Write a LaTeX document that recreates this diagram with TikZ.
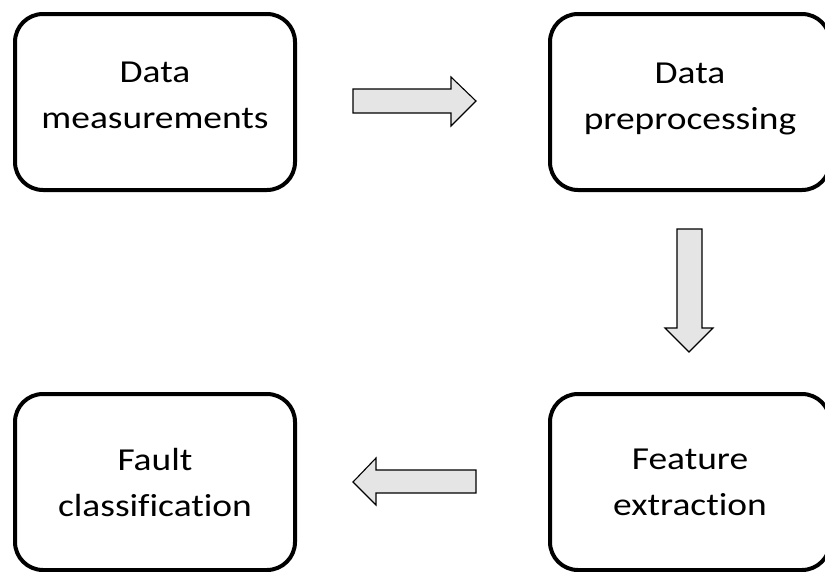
\documentclass[tikz,border=0pt]{standalone}
\usepackage{fontspec}
\setmainfont{Carlito}[Ligatures=NoCommon]
\begin{document}
\begin{tikzpicture}[x=1pt,y=-1pt,
  stage/.style={draw=black,line width=4pt,rounded corners=28pt,fill=white,
    minimum width=280pt,minimum height=176pt,inner sep=0pt},
  stagetext/.style={align=center,inner sep=0pt,xscale=1.17,transform shape,
    font=\fontsize{32}{46}\selectfont},
  fatarrow/.style={draw=black,line width=1.1pt,fill=black!10,line join=miter}]
\useasboundingbox (0,0) rectangle (825,571);
\node[stage] (meas) at (155,102) {};
\node[stage] (prep) at (690,102) {};
\node[stage] (feat) at (690,482) {};
\node[stage] (fault) at (155,482) {};
\node[stagetext] (tmeas) at (155,95) {Data\\measurements};
\node[stagetext] (tprep) at (690,99) {Data\\preprocessing};
\node[stagetext] (tfeat) at (690,482.5) {Feature\\extraction};
\node[stagetext] (tfault) at (155,482.5) {Fault\\classification};
% fat arrows
\draw[fatarrow] (353,89) -- (451,89) -- (451,77) -- (476,101) -- (451,126) -- (451,113) -- (353,113) -- cycle;
\draw[fatarrow] (677,229) -- (702,229) -- (702,328) -- (713,328) -- (689,352) -- (665,328) -- (677,328) -- cycle;
\draw[fatarrow] (353,482) -- (376,458) -- (376,470) -- (476,470) -- (476,493) -- (376,493) -- (376,505) -- cycle;
\end{tikzpicture}
\end{document}
